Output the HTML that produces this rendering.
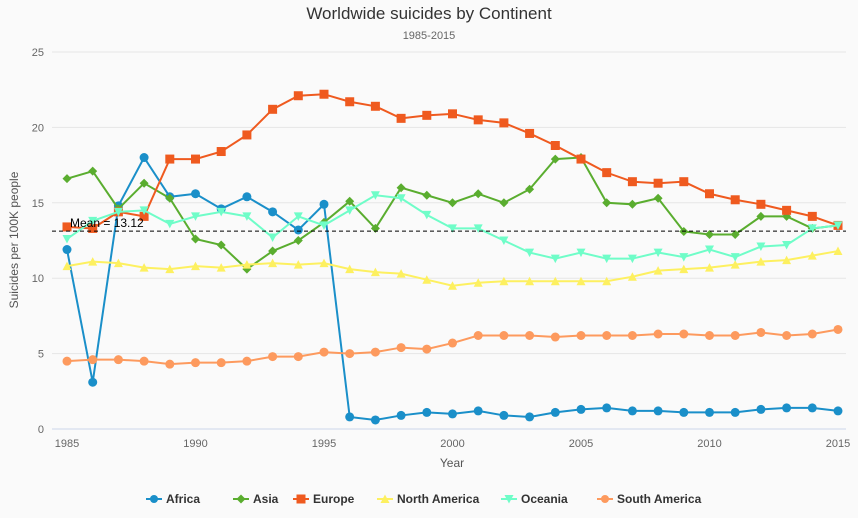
<!DOCTYPE html>
<html><head><meta charset="utf-8"><style>
html,body{margin:0;padding:0;background:#fafafa;}
svg{display:block;font-family:"Liberation Sans",sans-serif;}
</style></head><body>
<svg id="c" width="858" height="518"></svg>
<script>
const years=[];for(let y=1985;y<=2015;y++)years.push(y);
const yTicks=[0,5,10,15,20,25];
const xTicks=[1985,1990,1995,2000,2005,2010,2015];
const meanValue=13.12;
const africa=[11.9,3.1,14.8,18.0,15.4,15.6,14.6,15.4,14.4,13.2,14.9,0.8,0.6,0.9,1.1,1.0,1.2,0.9,0.8,1.1,1.3,1.4,1.2,1.2,1.1,1.1,1.1,1.3,1.4,1.4,1.2];
const asia=[16.6,17.1,14.6,16.3,15.3,12.6,12.2,10.6,11.8,12.5,13.7,15.1,13.3,16.0,15.5,15.0,15.6,15.0,15.9,17.9,18.0,15.0,14.9,15.3,13.1,12.9,12.9,14.1,14.1,13.3,13.5];
const europe=[13.4,13.3,14.4,14.1,17.9,17.9,18.4,19.5,21.2,22.1,22.2,21.7,21.4,20.6,20.8,20.9,20.5,20.3,19.6,18.8,17.9,17.0,16.4,16.3,16.4,15.6,15.2,14.9,14.5,14.1,13.5];
const northAmerica=[10.8,11.1,11.0,10.7,10.6,10.8,10.7,10.9,11.0,10.9,11.0,10.6,10.4,10.3,9.9,9.5,9.7,9.8,9.8,9.8,9.8,9.8,10.1,10.5,10.6,10.7,10.9,11.1,11.2,11.5,11.8];
const oceania=[12.6,13.8,14.4,14.5,13.6,14.1,14.4,14.1,12.7,14.1,13.5,14.5,15.5,15.3,14.2,13.3,13.3,12.5,11.7,11.3,11.7,11.3,11.3,11.7,11.4,11.9,11.4,12.1,12.2,13.3,13.5];
const southAmerica=[4.5,4.6,4.6,4.5,4.3,4.4,4.4,4.5,4.8,4.8,5.1,5.0,5.1,5.4,5.3,5.7,6.2,6.2,6.2,6.1,6.2,6.2,6.2,6.3,6.3,6.2,6.2,6.4,6.2,6.3,6.6];
const seriesNames=["Africa","Asia","Europe","North America","Oceania","South America"];
const seriesData=[africa,asia,europe,northAmerica,oceania,southAmerica];
const colors=["#1a8fc9","#5aad2f","#ef5a1f","#fdf060","#6ffdc8","#fd9a5e"];
const markers=["circle","diamond","square","tri-up","tri-down","circle"];
const X0=67,X1=838,Y0=429,Y1=52;
const xs=v=>X0+(v-1985)/30*(X1-X0);
const ys=v=>Y0-(v/25)*(Y0-Y1);
const svg=document.getElementById('c');const NS="http://www.w3.org/2000/svg";
function mk(t,a,p){const e=document.createElementNS(NS,t);for(const k in a)e.setAttribute(k,a[k]);(p||svg).appendChild(e);return e;}
function tx(x,y,s,a,p){const e=mk('text',Object.assign({x:x,y:y},a),p);e.textContent=s;return e;}
let e;
e=tx(429,19,"Worldwide suicides by Continent",{"text-anchor":"middle","font-size":"17","fill":"#333"});


e=tx(429,39,"1985-2015",{"text-anchor":"middle","font-size":"11","fill":"#666"});


yTicks.forEach(t=>{
 e=mk('line',{x1:X0-15,x2:X1+8,y1:ys(t),y2:ys(t),stroke:t===0?"#ccd6eb":"#e6e6e6","stroke-width":1});
 
 
 e=tx(44,ys(t)+4,String(t),{"text-anchor":"end","font-size":"11","fill":"#666"});
 
 
});
xTicks.forEach(t=>{
 e=tx(xs(t),447,String(t),{"text-anchor":"middle","font-size":"11","fill":"#666"});
 
 
});
e=tx(452,467,"Year",{"text-anchor":"middle","font-size":"12","fill":"#555"});


e=tx(0,0,"Suicides per 100K people",{"text-anchor":"middle","font-size":"12","fill":"#555","transform":"translate(18,240) rotate(-90)"});


function marker(g,type,x,y,c,r){
 if(type==="circle")return mk('circle',{cx:x,cy:y,r:r||4.5,fill:c},g);
 if(type==="square")return mk('rect',{x:x-4.5,y:y-4.5,width:9,height:9,fill:c},g);
 if(type==="diamond")return mk('path',{d:`M${x} ${y-4.5}L${x+4.5} ${y}L${x} ${y+4.5}L${x-4.5} ${y}Z`,fill:c},g);
 if(type==="tri-up")return mk('path',{d:`M${x} ${y-4.5}L${x+4.5} ${y+4}L${x-4.5} ${y+4}Z`,fill:c},g);
 return mk('path',{d:`M${x} ${y+4.5}L${x+4.5} ${y-4}L${x-4.5} ${y-4}Z`,fill:c},g);
}
seriesData.forEach((d,i)=>{
 const g=mk('g',{});
 
 
 mk('polyline',{points:d.map((v,j)=>xs(years[j])+","+ys(v)).join(" "),fill:"none",stroke:colors[i],"stroke-width":2},g);
 d.forEach((v,j)=>{const m=marker(g,markers[i],xs(years[j]),ys(v),colors[i]);
  
  });
});
e=mk('line',{x1:X0-15,x2:X1+8,y1:ys(meanValue),y2:ys(meanValue),stroke:"#000","stroke-width":1,"stroke-dasharray":"4,3"});


e=tx(70,ys(meanValue)-4,"Mean = "+meanValue,{"font-size":"12","fill":"#000"});


const lx=[146,233,293,377,501,597];
seriesNames.forEach((n,i)=>{
 const g=mk('g',{});
 
 
 mk('line',{x1:lx[i],x2:lx[i]+16,y1:499,y2:499,stroke:colors[i],"stroke-width":2},g);
 marker(g,markers[i],lx[i]+8,499,colors[i],4);
 const t=tx(lx[i]+20,503,n,{"font-size":"12","font-weight":"bold","fill":"#333"},g);
 
 
});
</script>
</body></html>
